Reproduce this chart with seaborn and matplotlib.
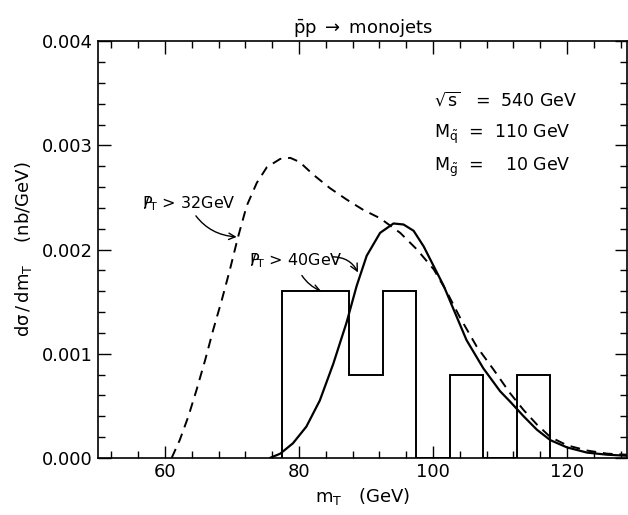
import numpy as np
import pandas as pd
import matplotlib
matplotlib.use("Agg")
import matplotlib.pyplot as plt
from matplotlib.ticker import MultipleLocator, FormatStrFormatter
import seaborn as sns

# -----------------------------
# данные
# -----------------------------
# пунктир: PT > 32 GeV
mt_32 = [61.0, 62.2, 63.5, 64.7, 66.0, 67.2, 68.5, 69.7, 70.9, 72.2, 73.7,
         75.2, 77.2, 78.7, 80.1, 82.1, 84.6, 87.1, 89.6, 92.1, 95.1, 97.6,
         100.1, 102.0, 104.0, 106.5, 109.0, 111.5, 113.5, 115.5, 117.5,
         120.0, 123.0, 126.0, 128.9]
sig_32 = [0.0, 0.00017, 0.0004, 0.00065, 0.00094, 0.00123, 0.00152, 0.00181,
          0.00212, 0.00242, 0.00264, 0.00279, 0.00287, 0.00288, 0.00284,
          0.00272, 0.00259, 0.00248, 0.00238, 0.0023, 0.00216, 0.00200,
          0.00181, 0.00160, 0.00135, 0.00107, 0.00085, 0.00062, 0.00046,
          0.00032, 0.0002, 0.00012, 0.00007, 0.00004, 0.00003]

# сплошная: PT > 40 GeV
mt_40 = [75.7, 77.2, 79.1, 81.1, 83.1, 85.1, 87.1, 88.6, 90.1, 92.1, 94.1,
         95.6, 97.1, 98.6, 100.1, 101.6, 103.1, 105.0, 107.5, 110.0, 111.5,
         112.5, 113.5, 115.5, 117.5, 120.0, 123.0, 126.0, 128.9]
sig_40 = [0.0, 0.00004, 0.00014, 0.0003, 0.00055, 0.0009, 0.0013, 0.00165,
          0.00194, 0.00216, 0.00225, 0.00224, 0.00218, 0.00203, 0.00184,
          0.00165, 0.00142, 0.00113, 0.00086, 0.00064, 0.00054, 0.00047,
          0.0004, 0.00027, 0.00017, 0.0001, 0.00005, 0.00003, 0.00002]

# гистограмма событий
bin_edges = [77.5, 82.5, 87.5, 92.5, 97.5, 102.5, 107.5, 112.5, 117.5]
bin_heights = [0.0016, 0.0016, 0.0008, 0.0016, 0.0, 0.0008, 0.0, 0.0008]

df32 = pd.DataFrame({"mt": mt_32, "sig": sig_32})
df40 = pd.DataFrame({"mt": mt_40, "sig": sig_40})

# -----------------------------
# оформление
# -----------------------------
sns.set_theme(style="ticks")
plt.rcParams["font.family"] = ["DejaVu Sans"]
plt.rcParams["mathtext.default"] = "regular"
plt.rcParams["font.size"] = 13
plt.rcParams["text.color"] = "black"
plt.rcParams["axes.labelcolor"] = "black"

fig = plt.figure(figsize=(6.28, 5.15), dpi=100)
ax = fig.add_axes([0.156, 0.111, 0.843, 0.809])

sns.lineplot(data=df32, x="mt", y="sig", ax=ax, color="black", lw=1.4,
             linestyle=(0, (5, 3.5)))
sns.lineplot(data=df40, x="mt", y="sig", ax=ax, color="black", lw=1.6)
ax.stairs(bin_heights, bin_edges, color="black", lw=1.4, baseline=0)

ax.set_xlim(50, 129)
ax.set_ylim(0, 0.004)
ax.xaxis.set_major_locator(MultipleLocator(20))
ax.xaxis.set_minor_locator(MultipleLocator(4))
ax.yaxis.set_major_locator(MultipleLocator(0.001))
ax.yaxis.set_minor_locator(MultipleLocator(0.0002))
ax.yaxis.set_major_formatter(FormatStrFormatter("%.3f"))
ax.tick_params(which="both", direction="in", top=True, right=True,
               labelsize=13, color="black", labelcolor="black")
ax.tick_params(which="major", length=9, width=1)
ax.tick_params(which="minor", length=5, width=1)
for sp in ax.spines.values():
    sp.set_color("black")
    sp.set_linewidth(1.2)

ax.set_xlabel(r"$m_T$   (GeV)", fontsize=13, labelpad=4)
ax.set_ylabel(r"$d\sigma\,/\,dm_T$    (nb/GeV)", fontsize=13, labelpad=6)
ax.set_title(r"$\bar{p}p\;\rightarrow$ monojets", fontsize=13, pad=6)

# параметры
ax.text(0.635, 0.845, r"$\sqrt{s}$   =  540 GeV", transform=ax.transAxes,
        fontsize=12.5)
ax.text(0.635, 0.768, r"$M_{\tilde{q}}$  =  110 GeV", transform=ax.transAxes,
        fontsize=12.5)
ax.text(0.635, 0.688, r"$M_{\tilde{g}}$  =    10 GeV", transform=ax.transAxes,
        fontsize=12.5)

# подписи кривых со стрелками
ax.annotate(r"$P\!\!\!/_T$ > 32GeV", xy=(70.9, 0.00212), xytext=(56.5, 0.0024),
            fontsize=11.5,
            arrowprops=dict(arrowstyle="->", color="black", lw=1,
                            connectionstyle="arc3,rad=0.3",
                            shrinkA=0, shrinkB=1))
ax.annotate(r"$P\!\!\!/_T$ > 40GeV", xy=(83.3, 0.0016), xytext=(72.5, 0.00185),
            fontsize=11.5,
            arrowprops=dict(arrowstyle="->", color="black", lw=1,
                            connectionstyle="arc3,rad=0.25",
                            shrinkA=2, shrinkB=0))
ax.annotate("", xy=(88.8, 0.00178), xytext=(85.0, 0.00193),
            arrowprops=dict(arrowstyle="->", color="black", lw=1,
                            connectionstyle="arc3,rad=-0.3",
                            shrinkA=0, shrinkB=0))

fig.savefig("out.png", dpi=100)
